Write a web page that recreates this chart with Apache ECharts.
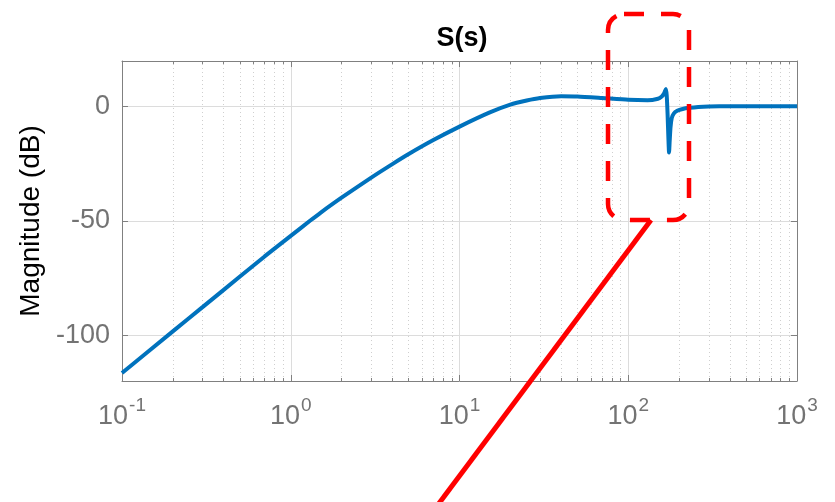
<!DOCTYPE html>
<html><head><meta charset="utf-8">
<script src="https://cdn.jsdelivr.net/npm/echarts@6/dist/echarts.min.js"></script>
<style>html,body{margin:0;padding:0;background:#fff}#c{width:835px;height:502px}</style>
</head><body><div id="c"></div>
<script>
// Frequency (rad/s) and magnitude (dB)
const freq = [0.1, 0.2, 0.3, 0.5, 0.7, 1, 1.3, 1.5, 2, 3, 4, 5, 7, 10, 15, 20, 25, 30, 40, 50, 70, 100, 130, 150, 158, 163, 167, 169, 171, 173, 174.5, 176, 178, 181, 186, 195, 210, 230, 260, 300, 400, 1000];
const magDb = [-116.5, -98.3, -87.7, -74.3, -65.5, -56.5, -49.9, -46.4, -39.8, -31.0, -25.1, -20.7, -14.6, -8.7, -2.6, 0.9, 2.7, 3.8, 4.6, 4.5, 3.8, 3.0, 2.8, 3.5, 4.5, 5.8, 7.8, 5, -3, -14, -20, -15, -9, -5, -3, -1.8, -1.0, -0.5, -0.1, 0.1, 0.2, 0.2];
const yTicks = [-100, -50, 0];
const xMinorTicks = [0.2, 0.3, 0.4, 0.5, 0.6, 0.7, 0.8, 0.9,
  2, 3, 4, 5, 6, 7, 8, 9,
  20, 30, 40, 50, 60, 70, 80, 90,
  200, 300, 400, 500, 600, 700, 800, 900];
const titleText = 'S(s)';
const yName = 'Magnitude (dB)';

const FONT = '"Liberation Sans", Arial, Helvetica, sans-serif';
const GRAY = '#737373';
const AXIS = '#808080';
const Y_MIN = -120, Y_MAX = 20;

const chart = echarts.init(document.getElementById('c'), null, {renderer: 'canvas'});
const xCommon = {
  type: 'log', logBase: 10, min: 0.1, max: 1000,
  axisLine: {show: true, onZero: false, lineStyle: {color: AXIS, width: 1}},
};
const minorTickLen = 1.3; // in dB units (about 3 px)
const minorTickSegs = [];
xMinorTicks.forEach(v => {
  minorTickSegs.push([{coord: [v, Y_MIN]}, {coord: [v, Y_MIN + minorTickLen]}]);
  minorTickSegs.push([{coord: [v, Y_MAX]}, {coord: [v, Y_MAX - minorTickLen]}]);
});
chart.setOption({
  animation: false,
  title: {text: titleText, left: 457, top: 20, textAlign: 'center',
    textStyle: {fontFamily: FONT, fontSize: 27, fontWeight: 'bold', color: '#000'}},
  grid: {left: 122, right: 38, top: 61, bottom: 121, containLabel: false, outerBoundsMode: 'none'},
  xAxis: [
    Object.assign({}, xCommon, {
      position: 'bottom',
      axisTick: {show: true, inside: true, length: 6, lineStyle: {color: AXIS}},
      splitLine: {show: true, lineStyle: {color: '#dcdcdc', width: 1}},
      axisLabel: {
        margin: 15,
        formatter: function (v) {
          const e = Math.round(Math.log10(v));
          return '{b|10}{s|' + e + '}';
        },
        rich: {
          b: {fontFamily: FONT, fontSize: 27, color: GRAY, lineHeight: 34, verticalAlign: 'bottom'},
          s: {fontFamily: FONT, fontSize: 19, color: GRAY, lineHeight: 34, verticalAlign: 'top', padding: [0, 0, 0, 1]}
        }
      }
    }),
    Object.assign({}, xCommon, {
      position: 'top',
      axisTick: {show: true, inside: true, length: 6, lineStyle: {color: AXIS}},
      axisLabel: {show: false},
      splitLine: {show: false}
    })
  ],
  yAxis: [
    {
      type: 'value', min: Y_MIN, max: Y_MAX, position: 'left',
      name: yName, nameLocation: 'middle', nameGap: 68,
      nameTextStyle: {fontFamily: FONT, fontSize: 28, color: '#000'},
      axisLine: {show: true, lineStyle: {color: AXIS}},
      axisTick: {show: true, inside: true, length: 6, customValues: yTicks, lineStyle: {color: AXIS}},
      axisLabel: {customValues: yTicks, margin: 12, fontFamily: FONT, fontSize: 27, color: GRAY},
      splitLine: {show: true, lineStyle: {color: '#dcdcdc', width: 1}}
    },
    {
      type: 'value', min: Y_MIN, max: Y_MAX, position: 'right',
      axisLine: {show: true, lineStyle: {color: AXIS}},
      axisTick: {show: true, inside: true, length: 6, customValues: yTicks, lineStyle: {color: AXIS}},
      axisLabel: {show: false},
      splitLine: {show: false}
    }
  ],
  series: [
    {
      type: 'line', xAxisIndex: 0, yAxisIndex: 0, z: 1, data: [],
      silent: true,
      markLine: {
        silent: true, symbol: ['none', 'none'], z: 1, animation: false,
        label: {show: false},
        lineStyle: {color: '#cfcfcf', width: 1, type: [1, 3]},
        data: xMinorTicks.map(v => ({xAxis: v}))
      }
    },
    {
      type: 'line', xAxisIndex: 0, yAxisIndex: 0, z: 1, data: [],
      silent: true,
      markLine: {
        silent: true, symbol: ['none', 'none'], z: 1, animation: false,
        label: {show: false},
        lineStyle: {color: AXIS, width: 1, type: 'solid'},
        data: minorTickSegs
      }
    },
    {
      type: 'line', xAxisIndex: 0, yAxisIndex: 0, z: 3,
      data: freq.map((f, i) => [f, magDb[i]]),
      showSymbol: false, symbol: 'none', smooth: 0.2,
      lineStyle: {color: '#0072BD', width: 4}
    }
  ],
  graphic: [
    {type: 'rect', z: 100, shape: {x: 608, y: 14, width: 81, height: 206, r: 16},
      style: {fill: null, stroke: '#ff0000', lineWidth: 4.5, lineDash: [20, 17]}},
    {type: 'line', z: 101, shape: {x1: 651, y1: 220, x2: 437, y2: 506},
      style: {stroke: '#ff0000', lineWidth: 5}}
  ]
});
</script></body></html>
